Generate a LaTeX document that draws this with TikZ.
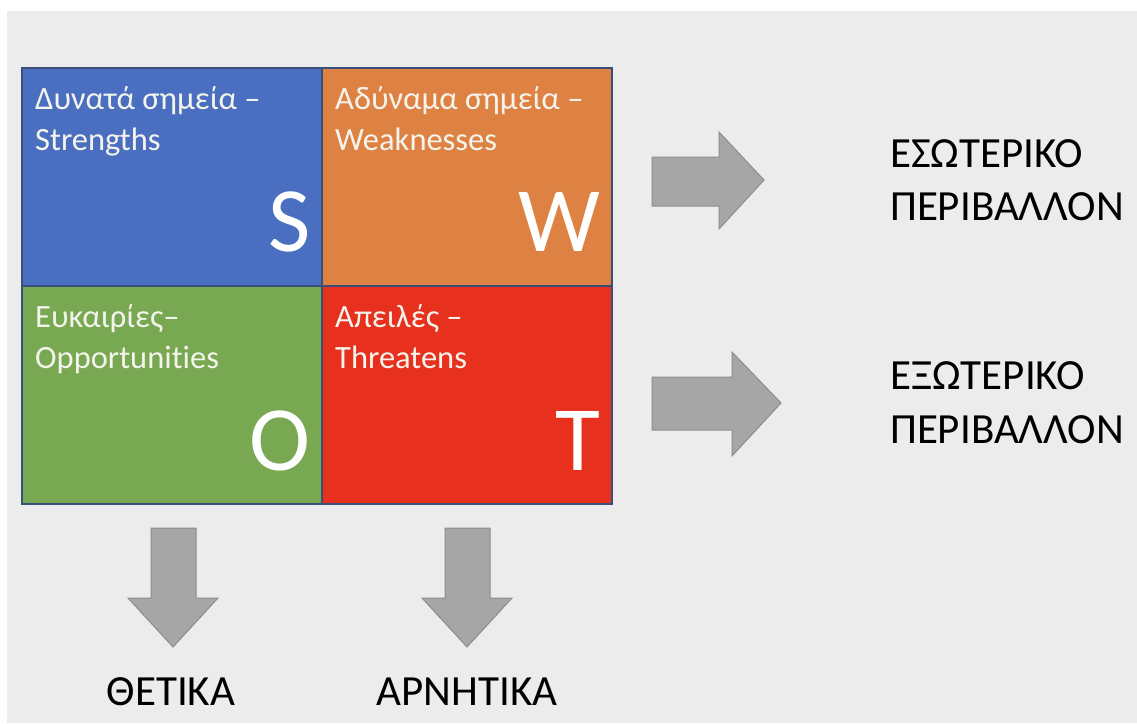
\documentclass[tikz,border=0pt]{standalone}
\usepackage{fontspec}
\setmainfont[Ligatures={NoCommon,NoContextual}]{Carlito}
\definecolor{panel}{HTML}{ECECEC}
\definecolor{qblue}{HTML}{4A6FC0}
\definecolor{qorange}{HTML}{DE8244}
\definecolor{qgreen}{HTML}{78A852}
\definecolor{qred}{HTML}{E8301F}
\definecolor{qborder}{HTML}{3A4E7A}
\definecolor{arrfill}{HTML}{A6A6A6}
\definecolor{arrline}{HTML}{8C8C8C}
\definecolor{labtxt}{HTML}{F4F4EC}
\tikzset{
  quad/.style={draw=qborder, line width=1.2pt},
  lab/.style={anchor=base west, inner sep=0pt, text=labtxt, font=\fontsize{32.5}{38}\selectfont},
  big/.style={anchor=base east, inner sep=0pt, text=white, font=\fontsize{92}{92}\selectfont},
  outtxt/.style={anchor=base west, inner sep=0pt, text=black, font=\fontsize{43}{50}\selectfont},
  bigarrow/.style={fill=arrfill, draw=arrline, line width=1pt, line join=miter}
}
\begin{document}
\begin{tikzpicture}[x=1pt,y=-1pt]
\useasboundingbox (0,0) rectangle (1137,723);
\fill[white] (0,0) rectangle (1137,723);
\fill[panel] (7,11) rectangle (1137,723);
% quadrants
\fill[qblue] (22,68) rectangle (322,286);
\fill[qorange] (322,68) rectangle (612,286);
\fill[qgreen] (22,286) rectangle (322,504);
\fill[qred] (322,286) rectangle (612,504);
\draw[quad] (22,68) rectangle (612,504);
\draw[quad] (322,68) -- (322,504);
\draw[quad] (22,286) -- (612,286);
% labels
\node[lab] (s1) at (35,109) {Δυνατά σημεία –};
\node[lab] (s2) at (35,150) {Strengths};
\node[lab] (w1) at (335,109) {Αδύναμα σημεία –};
\node[lab] (w2) at (335,150) {Weaknesses};
\node[lab] (o1) at (35,327) {Ευκαιρίες–};
\node[lab] (o2) at (35,368) {Opportunit\kern0pt ies};
\node[lab] (t1) at (335,327) {Απειλές –};
\node[lab] (t2) at (335,368) {Threatens};
\node[big] (S) at (311,251) {S};
\node[big] (W) at (601,251) {W};
\node[big] (O) at (311,470) {O};
\node[big] (T) at (601,470) {T};
% right arrows
\draw[bigarrow] (652,157) -- (719,157) -- (719,132) -- (764,180) -- (719,229) -- (719,206) -- (652,206) -- cycle;
\draw[bigarrow] (652,377) -- (732,377) -- (732,352) -- (781,403) -- (732,456) -- (732,430) -- (652,430) -- cycle;
% down arrows
\draw[bigarrow] (151,528) -- (196,528) -- (196,598) -- (218,598) -- (173,647) -- (128,598) -- (151,598) -- cycle;
\draw[bigarrow] (445,528) -- (490,528) -- (490,598) -- (512,598) -- (467,647) -- (422,598) -- (445,598) -- cycle;
% outside texts
\node[outtxt] (e1) at (890,167) {ΕΣΩΤΕΡΙΚΟ};
\node[outtxt] (e2) at (890,220) {ΠΕΡΙΒΑΛΛΟΝ};
\node[outtxt] (x1) at (890,389) {ΕΞΩΤΕΡΙΚΟ};
\node[outtxt] (x2) at (890,443) {ΠΕΡΙΒΑΛΛΟΝ};
\node[outtxt, anchor=base] (th) at (171,705) {ΘΕΤΙΚΑ};
\node[outtxt, anchor=base] (ar) at (467,705) {ΑΡΝΗΤΙΚΑ};
\end{tikzpicture}
\end{document}
